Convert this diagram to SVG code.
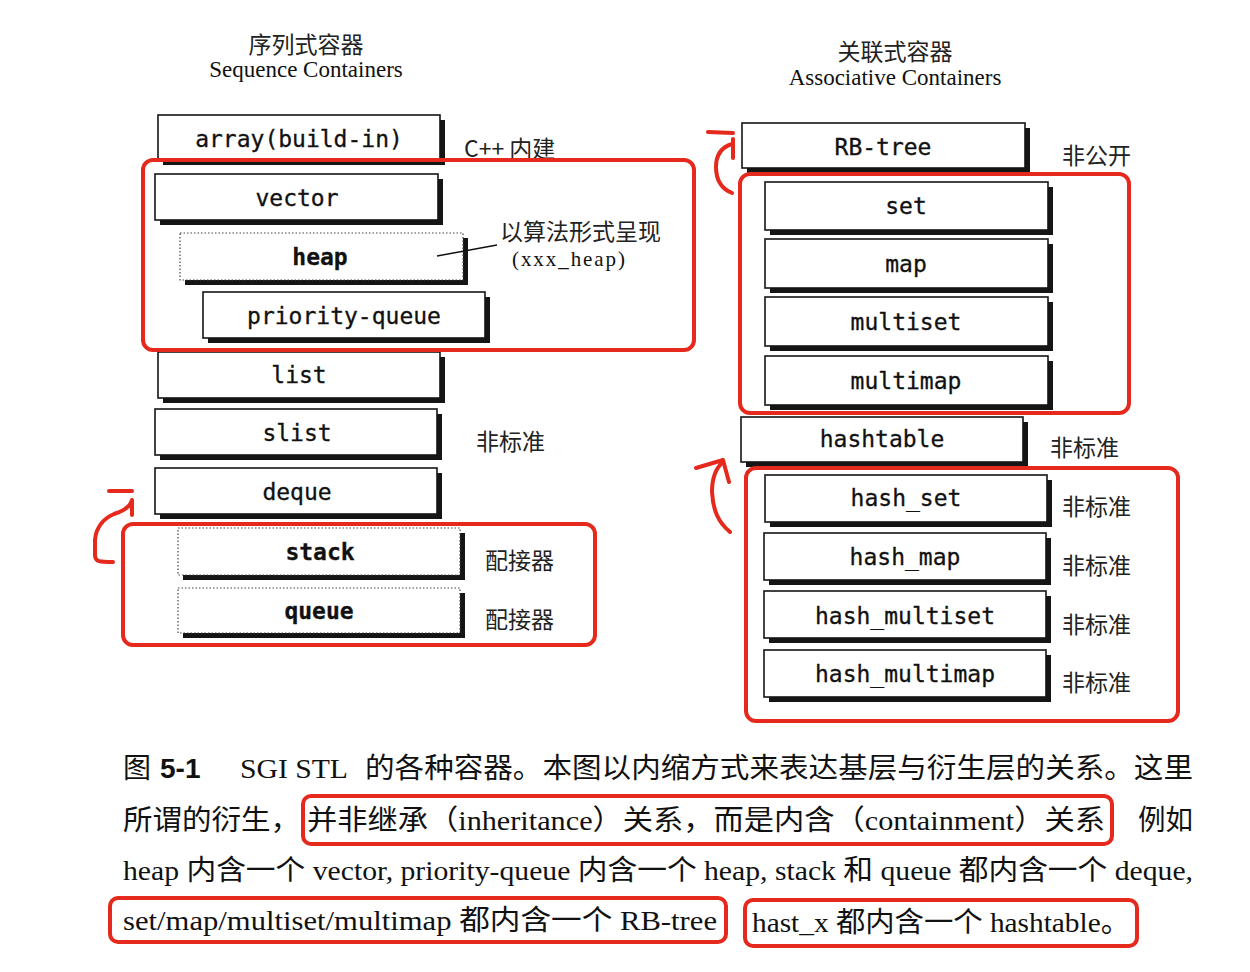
<svg xmlns="http://www.w3.org/2000/svg" width="1250" height="972" viewBox="0 0 1250 972">
<style>
.sh{fill:#151515}
.bx{fill:#fff;stroke:#151515;stroke-width:1.6}
.dt{fill:#fff;stroke:#444;stroke-width:1.2;stroke-dasharray:1.5 2}
.lb{font-family:"DejaVu Sans Mono","Liberation Mono",monospace;font-size:23px;fill:#111;text-anchor:middle;stroke:#111;stroke-width:0.3}
.bd{font-weight:bold}
.cj{font-family:"Noto Sans CJK SC",sans-serif;fill:#222}
.sf{font-family:"Liberation Serif","Noto Sans CJK SC",serif;fill:#111}
.red{fill:none;stroke:#e6291d;stroke-width:4;stroke-linecap:round;stroke-linejoin:round}
.cap{font-family:"Liberation Serif","Noto Sans CJK SC",serif;font-size:28px;fill:#111}
</style>
<rect width="1250" height="972" fill="#fff"/>
<g id="titles">
<text class="cj" x="306" y="53" font-size="23" text-anchor="middle">序列式容器</text>
<text class="sf" x="306" y="77" font-size="23" text-anchor="middle">Sequence Containers</text>
<text class="cj" x="895" y="60" font-size="23" text-anchor="middle">关联式容器</text>
<text class="sf" x="895" y="85" font-size="23" text-anchor="middle">Associative Containers</text>
</g>
<g id="n-array"><rect class="sh" x="163" y="120" width="282" height="45"/><rect class="bx" x="158" y="115" width="282" height="45"/><text class="lb" x="299" y="147">array(build-in)</text></g>
<g id="n-vector"><rect class="sh" x="160" y="179" width="283" height="46"/><rect class="bx" x="155" y="174" width="283" height="46"/><text class="lb" x="297" y="206">vector</text></g>
<g id="n-heap"><rect class="sh" x="185" y="238" width="283" height="47"/><rect class="dt" x="180" y="233" width="283" height="47"/><text class="lb bd" x="320" y="265">heap</text></g>
<g id="n-pq"><rect class="sh" x="208" y="297" width="282" height="46"/><rect class="bx" x="203" y="292" width="282" height="46"/><text class="lb" x="344" y="324">priority-queue</text></g>
<g id="n-list"><rect class="sh" x="163" y="357" width="282" height="46"/><rect class="bx" x="158" y="352" width="282" height="46"/><text class="lb" x="299" y="383">list</text></g>
<g id="n-slist"><rect class="sh" x="160" y="414" width="282" height="46"/><rect class="bx" x="155" y="409" width="282" height="46"/><text class="lb" x="297" y="441">slist</text></g>
<g id="n-deque"><rect class="sh" x="160" y="473" width="282" height="46"/><rect class="bx" x="155" y="468" width="282" height="46"/><text class="lb" x="297" y="500">deque</text></g>
<g id="n-stack"><rect class="sh" x="183" y="533" width="282" height="47"/><rect class="dt" x="178" y="528" width="282" height="47"/><text class="lb bd" x="320" y="560">stack</text></g>
<g id="n-queue"><rect class="sh" x="183" y="593" width="282" height="45"/><rect class="dt" x="178" y="588" width="282" height="45"/><text class="lb bd" x="319" y="619">queue</text></g>

<g id="n-rbtree"><rect class="sh" x="747" y="128" width="283" height="45"/><rect class="bx" x="742" y="123" width="283" height="45"/><text class="lb" x="883" y="155">RB-tree</text></g>
<g id="n-set"><rect class="sh" x="770" y="187" width="283" height="48"/><rect class="bx" x="765" y="182" width="283" height="48"/><text class="lb" x="906" y="214">set</text></g>
<g id="n-map"><rect class="sh" x="770" y="244" width="283" height="49"/><rect class="bx" x="765" y="239" width="283" height="49"/><text class="lb" x="906" y="272">map</text></g>
<g id="n-multiset"><rect class="sh" x="770" y="302" width="283" height="49"/><rect class="bx" x="765" y="297" width="283" height="49"/><text class="lb" x="906" y="330">multiset</text></g>
<g id="n-multimap"><rect class="sh" x="770" y="361" width="283" height="49"/><rect class="bx" x="765" y="356" width="283" height="49"/><text class="lb" x="906" y="389">multimap</text></g>
<g id="n-hashtable"><rect class="sh" x="746" y="422" width="282" height="45"/><rect class="bx" x="741" y="417" width="282" height="45"/><text class="lb" x="882" y="447">hashtable</text></g>
<g id="n-hash_set"><rect class="sh" x="770" y="480" width="282" height="47"/><rect class="bx" x="765" y="475" width="282" height="47"/><text class="lb" x="906" y="506">hash_set</text></g>
<g id="n-hash_map"><rect class="sh" x="769" y="538" width="282" height="47"/><rect class="bx" x="764" y="533" width="282" height="47"/><text class="lb" x="905" y="565">hash_map</text></g>
<g id="n-hash_multiset"><rect class="sh" x="769" y="596" width="282" height="47"/><rect class="bx" x="764" y="591" width="282" height="47"/><text class="lb" x="905" y="624">hash_multiset</text></g>
<g id="n-hash_multimap"><rect class="sh" x="769" y="655" width="282" height="47"/><rect class="bx" x="764" y="650" width="282" height="47"/><text class="lb" x="905" y="682">hash_multimap</text></g>

<g id="notes" class="cj" font-size="23">
<text x="464" y="157">C++ 内建</text>
<text x="500" y="240">以算法形式呈现</text>
<text class="sf" x="512" y="266" font-size="21" textLength="113" lengthAdjust="spacing">(xxx_heap)</text>
<text x="476" y="450">非标准</text>
<text x="485" y="569">配接器</text>
<text x="485" y="628">配接器</text>
<text x="1062" y="164">非公开</text>
<text x="1050" y="456">非标准</text>
<text x="1062" y="515">非标准</text>
<text x="1062" y="574">非标准</text>
<text x="1062" y="633">非标准</text>
<text x="1062" y="691">非标准</text>
</g>

<g id="connectors">
<line x1="437" y1="256" x2="497" y2="245" stroke="#111" stroke-width="1.5"/>
<path class="red" d="M113,562 C100,562 95,562 95,555 L95,540 C96,527 104,518 114,514 C124,511 130,507 132,500 L132,515"/>
<path class="red" d="M109,491 L132,491"/>
<path class="red" d="M732,193 C722,189 716,180 716,167 C716,155 722,147 732,144 M733,139 L733,158 M708,132 L733,133"/>
<path class="red" d="M730,532 C718,522 713,510 712,492 C712,478 716,468 723,462 M696,468 L723,460 L729,482"/>
</g>

<g id="groups" class="red">
<rect x="143" y="160" width="551" height="190" rx="10"/>
<rect x="123" y="524" width="472" height="121" rx="10"/>
<rect x="740" y="174" width="389" height="239" rx="10"/>
<rect x="746" y="468" width="432" height="253" rx="10"/>
</g>

<g id="caption" class="cap">
<text x="123" y="778">图</text>
<text x="160" y="778" font-family="Liberation Sans,sans-serif" font-weight="bold">5-1</text>
<text x="240" y="778" textLength="108" lengthAdjust="spacingAndGlyphs">SGI STL</text>
<text x="365" y="778" textLength="828" lengthAdjust="spacingAndGlyphs">的各种容器。本图以内缩方式来表达基层与衍生层的关系。这里</text>
<text x="123" y="830" textLength="177" lengthAdjust="spacingAndGlyphs">所谓的衍生，</text>
<text x="307" y="830" textLength="798" lengthAdjust="spacingAndGlyphs">并非继承（inheritance）关系，而是内含（containment）关系</text>
<text x="1138" y="830" textLength="55" lengthAdjust="spacingAndGlyphs">例如</text>
<text x="123" y="880" textLength="1070" lengthAdjust="spacingAndGlyphs">heap 内含一个 vector, priority-queue 内含一个 heap, stack 和 queue 都内含一个 deque,</text>
<text x="123" y="930" textLength="594" lengthAdjust="spacingAndGlyphs">set/map/multiset/multimap  都内含一个  RB-tree</text>
<text x="752" y="932" textLength="378" lengthAdjust="spacingAndGlyphs">hast_x  都内含一个 hashtable。</text>
</g>
<g id="caption-marks" class="red">
<rect x="303" y="796" width="809" height="48" rx="8"/>
<rect x="110" y="898" width="616" height="44" rx="8"/>
<rect x="745" y="900" width="392" height="46" rx="8"/>
</g>
</svg>
